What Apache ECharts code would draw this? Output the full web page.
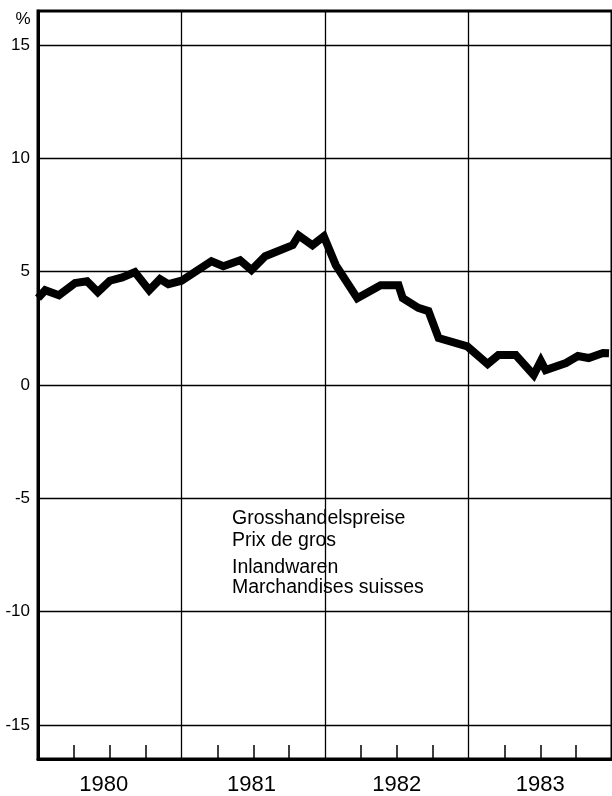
<!DOCTYPE html>
<html>
<head>
<meta charset="utf-8">
<script src="https://cdn.jsdelivr.net/npm/echarts@6/dist/echarts.min.js"></script>
<style>
html,body{margin:0;padding:0;background:#fff;}
#chart{width:612px;height:796px;}
</style>
</head>
<body>
<div id="chart"></div>
<script>
// Time position in months since January 1980 (vertices)
var monthPos = [0, 0.6, 1.75, 3.1, 4.1, 5.0, 6.0, 7.05, 8.1, 9.3, 10.2, 10.9, 12.0,
  14.5, 15.5, 16.9, 17.85, 19.0, 21.3, 21.8, 22.95, 23.9,
  24.9, 26.7, 28.65, 30.15, 30.5, 31.8, 32.65, 33.5, 35.9,
  37.6, 38.5, 39.95, 41.45, 42.05, 42.45, 44.15, 45.15, 46.05, 47.25, 47.75];
// Percent change, wholesale prices (domestic goods)
var pctValues = [3.83, 4.18, 3.96, 4.5, 4.58, 4.1, 4.6, 4.75, 4.98, 4.18, 4.67, 4.45, 4.6,
  5.46, 5.24, 5.5, 5.07, 5.68, 6.17, 6.6, 6.17, 6.56,
  5.29, 3.83, 4.4, 4.4, 3.83, 3.4, 3.26, 2.07, 1.7,
  0.93, 1.32, 1.32, 0.44, 1.06, 0.66, 0.97, 1.28, 1.19, 1.41, 1.4];

var yearLabels = ['1980', '1981', '1982', '1983'];
var yearLabelPos = [5.5, 17.85, 30, 42];
var yearBoundaries = [12, 24, 36];
var quarterTicks = [3, 6, 9, 15, 18, 21, 27, 30, 33, 39, 42, 45];
var yTickValues = [-15, -10, -5, 0, 5, 10, 15];
var titleLines = ['Grosshandelspreise', 'Prix de gros', 'Inlandwaren', 'Marchandises suisses'];

var FONT = '"Liberation Sans", Arial, Helvetica, sans-serif';

var seriesData = monthPos.map(function (m, i) { return [m, pctValues[i]]; });
var gridMarks = yTickValues.map(function (v) { return { yAxis: v }; })
  .concat(yearBoundaries.map(function (v) { return { xAxis: v }; }));

var chart = echarts.init(document.getElementById('chart'), null, { renderer: 'canvas' });
chart.setOption({
  animation: false,
  backgroundColor: '#fff',
  grid: { left: 38, right: 0, top: 11, bottom: 34, show: true, borderColor: '#000', borderWidth: 3, backgroundColor: 'transparent' },
  xAxis: {
    type: 'value', min: 0, max: 48,
    axisLine: { show: true, onZero: false, lineStyle: { color: '#000', width: 3 } },
    axisTick: { show: true, inside: true, length: 14, customValues: quarterTicks, lineStyle: { color: '#000', width: 1.5 } },
    axisLabel: {
      customValues: yearLabelPos, margin: 15,
      formatter: function (v) { return yearLabels[yearLabelPos.indexOf(v)] || ''; },
      color: '#000', fontSize: 22, fontFamily: FONT
    },
    splitLine: { show: false }
  },
  yAxis: {
    type: 'value', min: -16.5, max: 16.5,
    axisLine: { show: true, lineStyle: { color: '#000', width: 3 } },
    axisTick: { show: false },
    axisLabel: { customValues: yTickValues, margin: 8, color: '#000', fontSize: 17, fontFamily: FONT },
    splitLine: { show: false }
  },
  graphic: [
    { type: 'text', x: 23, y: 19, style: { text: '%', font: '17px ' + FONT, fill: '#000', align: 'center', verticalAlign: 'middle' } },
    { type: 'text', x: 232, y: 519, style: { text: titleLines[0], font: '19.5px ' + FONT, fill: '#000', verticalAlign: 'middle' } },
    { type: 'text', x: 232, y: 541, style: { text: titleLines[1], font: '19.5px ' + FONT, fill: '#000', verticalAlign: 'middle' } },
    { type: 'text', x: 232, y: 568, style: { text: titleLines[2], font: '19.5px ' + FONT, fill: '#000', verticalAlign: 'middle' } },
    { type: 'text', x: 232, y: 588, style: { text: titleLines[3], font: '19.5px ' + FONT, fill: '#000', verticalAlign: 'middle' } }
  ],
  series: [{
    type: 'line',
    data: seriesData,
    showSymbol: false,
    symbol: 'none',
    clip: true,
    lineStyle: { color: '#000', width: 8, join: 'miter', cap: 'butt' },
    markLine: {
      silent: true, symbol: 'none', label: { show: false },
      lineStyle: { color: '#000', width: 1.3, type: 'solid' },
      data: gridMarks
    }
  }]
});
</script>
</body>
</html>
